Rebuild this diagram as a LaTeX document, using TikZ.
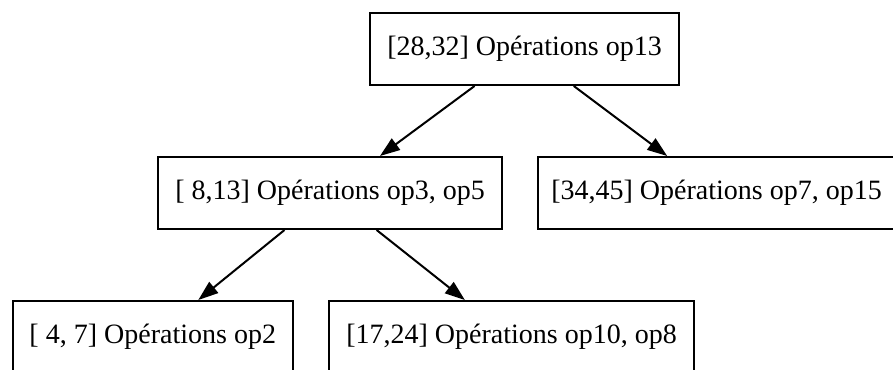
\documentclass[tikz,border=0pt]{standalone}
\usepackage{fontspec}
\setmainfont{Liberation Serif}
\usetikzlibrary{arrows.meta}
\begin{document}
\begin{tikzpicture}[x=0.5pt,y=-0.5pt,
  box/.style={draw,line width=1pt,inner sep=0pt,minimum height=36pt,font=\fontsize{14pt}{16pt}\selectfont},
  edge/.style={line width=1pt,-{Triangle[length=10pt,width=7pt]}}]
\useasboundingbox (0,0) rectangle (893,369);
\node[box,minimum width=154.5pt] (a) at (524.5,49) {[28,32] Opérations op13};
\node[box,minimum width=172pt] (b) at (330,193) {[ 8,13] Opérations op3, op5};
\node[box,minimum width=178.5pt] (c) at (716.5,193) {[34,45] Opérations op7, op15};
\node[box,minimum width=140.25pt] (d) at (152.75,337) {[ 4, 7] Opérations op2};
\node[box,minimum width=182.5pt] (e) at (511.5,337) {[17,24] Opérations op10, op8};
\draw[edge] (a) -- (b);
\draw[edge] (a) -- (c);
\draw[edge] (b) -- (d);
\draw[edge] (b) -- (e);
\end{tikzpicture}
\end{document}
